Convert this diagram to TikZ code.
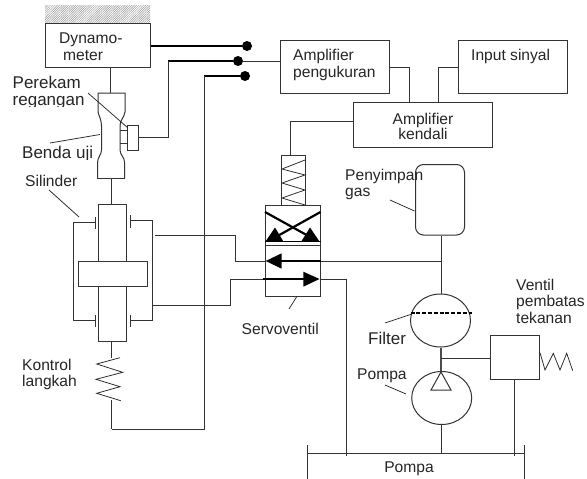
\documentclass[tikz,border=0pt]{standalone}
\usepackage{fontspec}
\setmainfont{Liberation Sans}
\usetikzlibrary{shapes.geometric,patterns.meta,calc}
\tikzset{
  ln/.style={line width=1pt,draw=black!80},
  thk/.style={line width=2.2pt,draw=black},
  boxst/.style={draw=black!80,line width=1pt,inner sep=0pt,fill=none},
  lbl/.style={anchor=base west,inner sep=0pt,text=black!85,font=\fontsize{15.6}{17}\selectfont},
  lblb/.style={lbl,font=\fontsize{17}{19}\selectfont},
  dot/.style={circle,fill=black,inner sep=0pt,minimum size=10pt},
  tip/.style={fill=black,draw=none},
  lead/.style={line width=0.75pt,draw=black!85},
}
\begin{document}
\begin{tikzpicture}[x=1pt,y=-1pt]
\useasboundingbox (0,0) rectangle (587,479);
\fill[white] (0,0) rectangle (587,479);
% hatch
\fill[pattern={Lines[angle=45,distance=1.6pt,line width=0.5pt]},pattern color=black!40] (45,5) rectangle (150,23);
% boxes
\node[boxst,minimum width=104.5pt,minimum height=44pt] (dyn) at (97.75,45) {};
\node[boxst,minimum width=109pt,minimum height=53pt] (ampu) at (334.5,66.5) {};
\node[boxst,minimum width=108.5pt,minimum height=53pt] (inp) at (512.75,66.5) {};
\node[boxst,minimum width=139pt,minimum height=44.5pt] (ampk) at (423,124.75) {};
\node[boxst,minimum width=49pt,minimum height=70.5pt,rounded corners=8pt] (gas) at (440,199.75) {};
\node[boxst,ellipse,minimum width=60pt,minimum height=53pt] (filt) at (440.5,320.5) {};
\node[boxst,ellipse,minimum width=60pt,minimum height=53pt] (pump) at (441.7,398) {};
\node[boxst,minimum width=49.5pt,minimum height=44pt] (relief) at (514.75,357) {};
\node[boxst,minimum width=24pt,minimum height=50pt] (sol) at (293.3,180) {};
\node[boxst,minimum width=55.7pt,minimum height=91.7pt] (valve) at (292.85,250.85) {};
\node[boxst,minimum width=11pt,minimum height=25pt] (gauge) at (132.5,137.5) {};
\node[boxst,minimum width=28pt,minimum height=137pt] (cyl) at (112,272.5) {};
\node[boxst,minimum width=69pt,minimum height=24.5pt,fill=white] (piston) at (112.5,273.75) {};
% dots
\node[dot] (d1) at (247,46) {};
\node[dot] (d2) at (238,61) {};
\node[dot] (d3) at (245,76) {};
% texts
\node[lbl] (t1) at (59,43) {Dynamo-};
\node[lbl] (t2) at (63,60) {meter};
\node[lblb] (t3) at (12.5,88) {Perekam};
\begin{scope}
\clip (0,92) rectangle (100,106.5);
\node[lblb] (t4) at (12.5,105.8) {regangan};
\end{scope}
\begin{scope}
\clip (0,140) rectangle (100,159.5);
\node[lblb] (t5) at (22,158.6) {Benda uji};
\end{scope}
\node[lbl] (t6) at (25,186) {Silinder};
\node[lbl] (t7) at (293,60.7) {Amplifier};
\node[lbl] (t8) at (293,77) {pengukuran};
\node[lbl] (t9) at (471,60.7) {Input sinyal};
\node[lbl,anchor=base] (t10) at (423,124) {Amplifier};
\node[lbl,anchor=base] (t11) at (423,139.5) {kendali};
\node[lbl] (t12) at (345,180) {Penyimpan};
\node[lbl] (t13) at (345,196) {gas};
\node[lbl] (t14) at (241.5,334) {Servoventil};
\node[lbl] (t15) at (22,370) {Kontrol};
\node[lbl] (t16) at (22,386.7) {langkah};
\node[lblb] (t17) at (368,344.5) {Filter};
\node[lbl] (t18) at (357,379) {Pompa};
\node[lbl] (t19) at (516,290) {Ventil};
\node[lbl] (t20) at (516,306.7) {pembatas};
\node[lbl] (t21) at (516,323) {tekanan};
\node[lbl,anchor=base] (t22) at (409,472) {Pompa};
% signal lines
\draw[thk] (dyn.east |- d1) -- (d1);
\draw[thk] (168,61) -- (d2);
\draw[ln] (d2) -- (ampu.west |- d2);
\draw[ln] (gauge.east) -- (168,137.5) -- (168,61);
\draw[thk] (204,76) -- (d3);
\draw[ln] (204,76) -- (204,429) -- (111.7,429);
\draw[ln] (ampu.east |- 0,67) -- (409,67) -- (409,0 |- ampk.north);
\draw[ln] (inp.west |- 0,67) -- (438.5,67) -- (438.5,0 |- ampk.north);
\draw[ln] (ampk.west |- 0,121) -- (290,121) -- (290,0 |- sol.north);
% specimen
\draw[ln] (dyn.south -| 110.5,0) -- (110.5,93);
\draw[ln] (98,105) -- (98,93) -- (125,93) -- (125,112) .. controls (124,118) and (120,120) .. (120,126);
\draw[ln] (98,105) -- (98,112) .. controls (99,116) and (101.5,120) .. (101.5,126) -- (101.5,150) .. controls (101.5,155) and (97.5,157) .. (97.5,163) -- (97.5,178);
\draw[ln] (120,126) -- (120,150) .. controls (120,155) and (124.5,157) .. (124.5,162) -- (124.5,178);
\draw[ln] (96.5,178) -- (125,178);
\draw[ln] (120,130) -- (127,130) (120,143) -- (127,143);
\draw[lead] (88,93) -- (128,128);
\draw[lead] (50,143) -- (100,134.5);
\draw[lead] (49,190) -- (79,217);
% cylinder
\draw[ln] (111,178) -- (111,0 |- cyl.north);
\draw[ln] (95,216.5) -- (95,229) (95,222) -- (73,222) -- (73,320) -- (95,320) (95,315) -- (95,327);
\draw[ln] (130,215) -- (130,228) (130,220) -- (152.5,220) -- (152.5,320) -- (130,320) (130,315) -- (130,327);
\draw[ln] (155,235) -- (235,235) -- (235,261) -- (266,261);
\draw[ln] (152,305.5) -- (230.5,305.5) -- (230.5,279) -- (265,279);
% spring
\draw[ln] (cyl.south -| 111.7,0) -- (111.7,358);
\draw[ln] (111.7,400) -- (111.7,429);
\draw[lead] (120,357.7) -- (96.7,364) -- (122.7,372.3) -- (96,379.3) -- (120,386.7) -- (96.7,393.3) -- (120.7,400.7);
% solenoid
\draw[lead] (305,160) -- (282,169) -- (305,175) -- (282,183) -- (305,190) -- (282,198) -- (305,205);
% valve
\draw[ln] (valve.west |- 0,245) -- (valve.east |- 0,245);
\draw[thk] (265,212) -- (312,238);
\draw[thk] (320.5,212) -- (274,238);
\fill[tip] (275,227.5) -- (266,240.8) -- (283,240.8) -- cycle;
\fill[tip] (310,227.5) -- (301.7,240.8) -- (319,240.8) -- cycle;
\draw[line width=1.2pt] (265,241.2) -- (320.7,241.2);
\fill[tip] (265.7,261) -- (281.7,253.3) -- (281.7,268.7) -- cycle;
\draw[thk] (281,261) -- (320.7,261);
\draw[ln] (320.7,261) -- (441,261);
\draw[thk] (263,279) -- (304,279);
\fill[tip] (319.5,279) -- (303.3,271.7) -- (303.3,286.7) -- cycle;
\draw[ln] (319.5,279) -- (346,279) -- (346,453);
\draw[lead] (296.7,296.7) -- (289,309);
% pressure side
\draw[ln] (441,0 |- gas.south) -- (441,0 |- filt.north);
\draw[line width=2pt,dash pattern=on 4pt off 1.8pt] (410.5,312.5) -- (472,312.5);
\draw[lead] (385,323) -- (412,314);
\draw[lead] (390,200) -- (414.5,211);
\draw[line width=1.2pt,draw=black!70] (441,0 |- filt.south) -- (441,0 |- pump.north);
\draw[ln] (441,358) -- (relief.west |- 0,358);
\draw[ln,fill=white] (441,372) -- (431,390) -- (451,390) -- cycle;
\draw[lead] (385,385) -- (406,394);
\draw[ln] (441,0 |- pump.south) -- (441,453);
\draw[lead] (relief.east |- 0,352.7) -- (545,370) -- (553.3,353.3) -- (560,370) -- (566.7,353.3) -- (572.7,370.7);
\draw[ln] (514,0 |- relief.south) -- (514,456);
\draw[ln] (307,453) -- (524.5,453);
\draw[ln] (307,445) -- (307,478.5);
\draw[ln] (524.5,445) -- (524.5,478.5);
\draw[ln] (346,453) -- (346,456);
\end{tikzpicture}
\end{document}
